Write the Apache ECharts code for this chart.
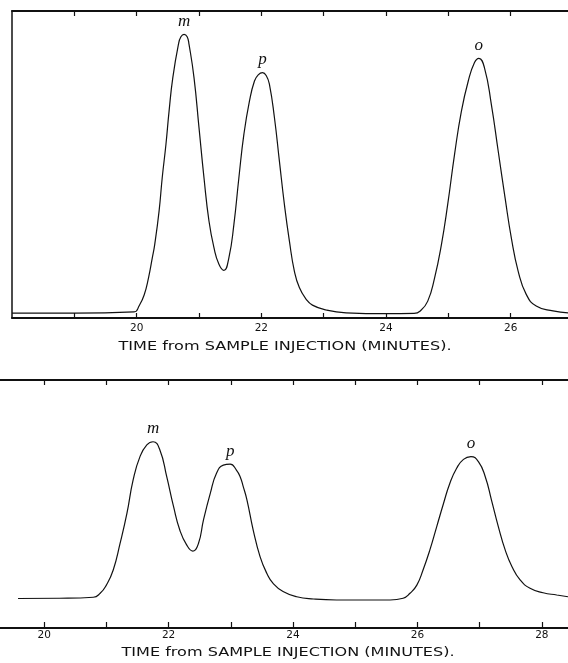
<!DOCTYPE html>
<html>
<head>
<meta charset="utf-8">
<title>chromatogram</title>
<script src="https://cdn.jsdelivr.net/npm/echarts@6/dist/echarts.min.js"></script>
<style>
html, body { margin: 0; padding: 0; background: #fff; }
#chart { width: 568px; height: 663px; }
</style>
</head>
<body>
<div id="chart"></div>
<script>
// upper trace: time (min) and detector signal (% of panel height)
let top_time = [18.0, 19.0, 19.96, 20.04, 20.12, 20.19, 20.25, 20.29, 20.36, 20.41, 20.47, 20.52, 20.58, 20.67, 20.71, 20.76, 20.81, 20.84, 20.92, 21.0, 21.08, 21.16, 21.24, 21.32, 21.4, 21.48, 21.56, 21.64, 21.72, 21.81, 21.89, 21.95, 22.02, 22.08, 22.13, 22.21, 22.29, 22.37, 22.45, 22.53, 22.61, 22.72, 22.82, 23.04, 23.36, 24.0, 24.45, 24.55, 24.67, 24.78, 24.89, 24.99, 25.1, 25.21, 25.32, 25.42, 25.49, 25.58, 25.69, 25.8, 25.91, 26.01, 26.12, 26.25, 26.41, 26.68, 26.92];
let top_signal = [1.6, 1.6, 2.0, 4.0, 7.5, 13.1, 19.5, 24.0, 34.9, 45.7, 56.6, 67.4, 78.3, 89.1, 91.6, 92.4, 91.6, 89.1, 78.3, 62.0, 45.7, 31.6, 22.9, 17.5, 15.5, 19.7, 30.5, 45.7, 59.8, 70.7, 77.2, 79.2, 79.9, 78.9, 76.1, 65.3, 51.1, 37.0, 25.1, 15.3, 9.9, 6.1, 4.2, 2.6, 1.7, 1.4, 1.5, 2.3, 5.5, 13.1, 24.0, 37.0, 53.3, 67.4, 77.2, 83.2, 84.6, 81.5, 69.6, 54.4, 39.2, 26.2, 15.3, 7.7, 3.9, 2.3, 1.7];
let top_ticks = [19, 20, 21, 22, 23, 24, 25, 26];
let top_labels = [20, 22, 24, 26];

// lower trace
let bottom_time = [19.58, 20.25, 20.79, 20.9, 21.0, 21.11, 21.22, 21.33, 21.43, 21.54, 21.65, 21.75, 21.86, 21.97, 22.08, 22.18, 22.29, 22.39, 22.48, 22.56, 22.67, 22.77, 22.88, 22.99, 23.09, 23.15, 23.2, 23.26, 23.36, 23.47, 23.58, 23.68, 23.84, 24.06, 24.33, 24.7, 25.56, 25.77, 25.88, 25.99, 26.09, 26.2, 26.31, 26.42, 26.52, 26.63, 26.74, 26.86, 26.98, 27.09, 27.19, 27.3, 27.41, 27.52, 27.65, 27.81, 28.02, 28.24, 28.42];
let bottom_signal = [11.9, 12.0, 12.4, 14.0, 17.3, 23.4, 34.1, 46.2, 59.7, 69.1, 73.8, 75.1, 71.8, 61.0, 48.9, 39.5, 33.5, 31.0, 34.1, 43.5, 54.3, 62.4, 65.7, 66.1, 63.7, 61.0, 57.0, 51.6, 39.5, 28.8, 22.0, 18.0, 14.7, 12.6, 11.7, 11.3, 11.3, 12.0, 14.0, 17.3, 23.4, 31.5, 40.9, 50.3, 58.3, 64.4, 68.0, 69.1, 67.1, 61.0, 51.6, 40.9, 31.5, 24.7, 19.4, 16.0, 14.2, 13.3, 12.6];
let bottom_ticks = [20, 21, 22, 23, 24, 25, 26, 27, 28];
let bottom_labels = [20, 22, 24, 26, 28];

let peak_names = ['m', 'p', 'o'];
let axis_title = 'TIME from SAMPLE INJECTION (MINUTES).';

let ink = '#111';

// find local maxima and tag them m, p, o
function peak_points(times, values) {
	let res = [];
	for (let i = 1; i < values.length - 1; i++) {
		if (values[i] > 50 && values[i] >= values[i - 1] && values[i] > values[i + 1]) {
			res.push({ name: peak_names[res.length], coord: [times[i], values[i]] });
		}
	}
	return res;
}

function make_series(times, values, idx) {
	return {
		type: 'line',
		xAxisIndex: idx * 2,
		yAxisIndex: idx,
		data: times.map((t, i) => [t, values[i]]),
		showSymbol: false,
		smooth: 0.5,
		lineStyle: { color: ink, width: 1.2 },
		silent: true,
		markPoint: {
			symbol: 'circle',
			symbolSize: 0,
			silent: true,
			label: {
				show: true,
				position: 'inside',
				offset: [0, -13],
				formatter: '{b}',
				color: ink,
				fontFamily: 'Liberation Serif',
				fontStyle: 'italic',
				fontSize: 17,
			},
			data: peak_points(times, values),
		},
	};
}

function bottom_axis(grid, min, max, ticks, labels, margin, tick_len) {
	return {
		type: 'value',
		gridIndex: grid,
		position: 'bottom',
		min: min,
		max: max,
		splitLine: { show: false },
		axisLine: { show: true, lineStyle: { color: ink, width: 2 } },
		axisTick: { show: true, inside: true, length: tick_len, customValues: ticks, lineStyle: { color: ink, width: 1.2 } },
		axisLabel: {
			margin: margin,
			color: ink,
			fontFamily: 'DejaVu Sans',
			fontSize: 10.5,
			customValues: labels,
		},
	};
}

function top_axis(grid, min, max, ticks) {
	return {
		type: 'value',
		gridIndex: grid,
		position: 'top',
		min: min,
		max: max,
		splitLine: { show: false },
		axisLine: { show: true, lineStyle: { color: ink, width: 2 } },
		axisTick: { show: true, inside: true, length: 5, customValues: ticks, lineStyle: { color: ink, width: 1.2 } },
		axisLabel: { show: false },
	};
}

function title_text(x, y) {
	return {
		type: 'text',
		x: x,
		y: y,
		scaleX: 1.34,
		style: {
			text: axis_title,
			fill: ink,
			font: '12px "DejaVu Sans"',
			textAlign: 'center',
			textVerticalAlign: 'middle',
		},
	};
}

let chart = echarts.init(document.getElementById('chart'));

let option = {
	backgroundColor: '#fff',
	animation: false,
	grid: [
		{ left: 12, right: 0, top: 11, height: 307 },
		{ left: 0, right: 0, top: 380, height: 248 },
	],
	xAxis: [
		bottom_axis(0, 18, 26.92, top_ticks, top_labels, 5, 5),
		top_axis(0, 18, 26.92, top_ticks),
		bottom_axis(1, 19.29, 28.42, bottom_ticks, bottom_labels, 2, 6),
		top_axis(1, 19.29, 28.42, bottom_ticks),
	],
	yAxis: [
		{
			type: 'value',
			gridIndex: 0,
			min: 0,
			max: 100,
			splitLine: { show: false },
			axisLine: { show: true, lineStyle: { color: ink, width: 1.5 } },
			axisTick: { show: false },
			axisLabel: { show: false },
		},
		{
			type: 'value',
			gridIndex: 1,
			min: 0,
			max: 100,
			show: false,
		},
	],
	graphic: [title_text(285, 347), title_text(288, 653)],
	series: [make_series(top_time, top_signal, 0), make_series(bottom_time, bottom_signal, 1)],
};

chart.setOption(option);
</script>
</body>
</html>
